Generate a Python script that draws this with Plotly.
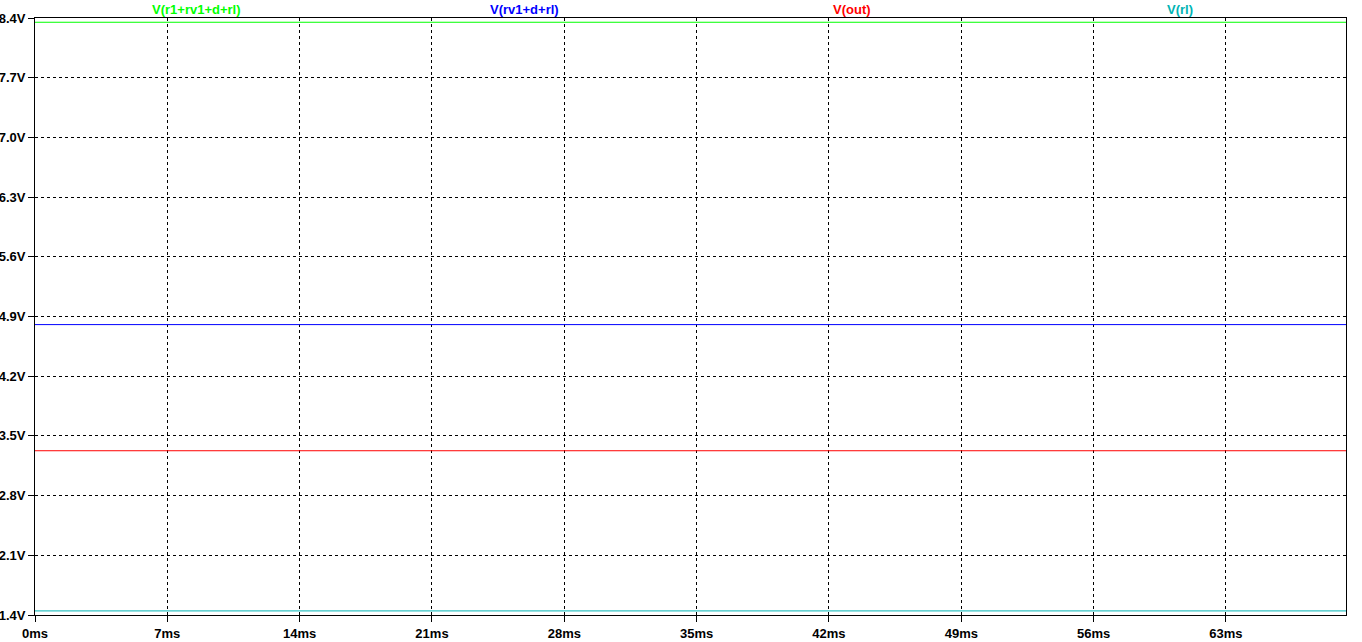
import plotly.graph_objects as go

# time range (ms)
t_start = 0.0
t_end = 69.35

# series (constant DC levels, volts)
series_names = ["V(r1+rv1+d+rl)", "V(rv1+d+rl)", "V(out)", "V(rl)"]
series_values = [8.35, 4.805, 3.326, 1.448]
series_colors = ["#00ff00", "#0000ff", "#ff0000", "#00b4b4"]

# axis ticks
x_ticks = [0, 7, 14, 21, 28, 35, 42, 49, 56, 63]
x_labels = ["0ms", "7ms", "14ms", "21ms", "28ms", "35ms", "42ms", "49ms", "56ms", "63ms"]
y_ticks = [1.4, 2.1, 2.8, 3.5, 4.2, 4.9, 5.6, 6.3, 7.0, 7.7, 8.4]
y_labels = ["1.4V", "2.1V", "2.8V", "3.5V", "4.2V", "4.9V", "5.6V", "6.3V", "7.0V", "7.7V", "8.4V"]

fig = go.Figure()
for name, v, c in zip(series_names, series_values, series_colors):
    fig.add_trace(go.Scatter(x=[t_start, t_end], y=[v, v], mode="lines",
                             line=dict(color=c, width=1), name=name,
                             showlegend=False))

n = len(series_names)
for i, (name, c) in enumerate(zip(series_names, series_colors)):
    fig.add_annotation(x=(i + 0.5) / n, y=1.0, xref="paper", yref="paper",
                       text="<b>%s</b>" % name, showarrow=False,
                       xanchor="center", yanchor="bottom", yshift=-1, xshift=-2,
                       font=dict(family="Liberation Sans, Arial", size=13, color=c))

axis_common = dict(showline=True, linecolor="black", linewidth=1, mirror=True,
                   showgrid=True, gridcolor="black", griddash="3px,3px", gridwidth=1,
                   zeroline=False, ticks="outside", ticklen=6, tickcolor="black",
                   automargin=False,
                   tickfont=dict(family="Liberation Sans, Arial", size=13, color="black"))

fig.update_xaxes(range=[t_start, t_end], tickvals=x_ticks,
                 ticktext=["<b>%s</b>" % s for s in x_labels], **axis_common)
fig.update_yaxes(range=[1.4, 8.4], tickvals=y_ticks, ticklabelstandoff=0,
                 ticktext=["<b>%s</b>" % s for s in y_labels], **axis_common)

fig.update_layout(width=1362, height=642, plot_bgcolor="white", paper_bgcolor="white",
                  margin=dict(l=35, r=16, t=18, b=27), showlegend=False)

fig.write_html("out.html", config={"displayModeBar": False},
               post_script="document.body.style.margin='0';document.body.style.overflow='hidden';")
